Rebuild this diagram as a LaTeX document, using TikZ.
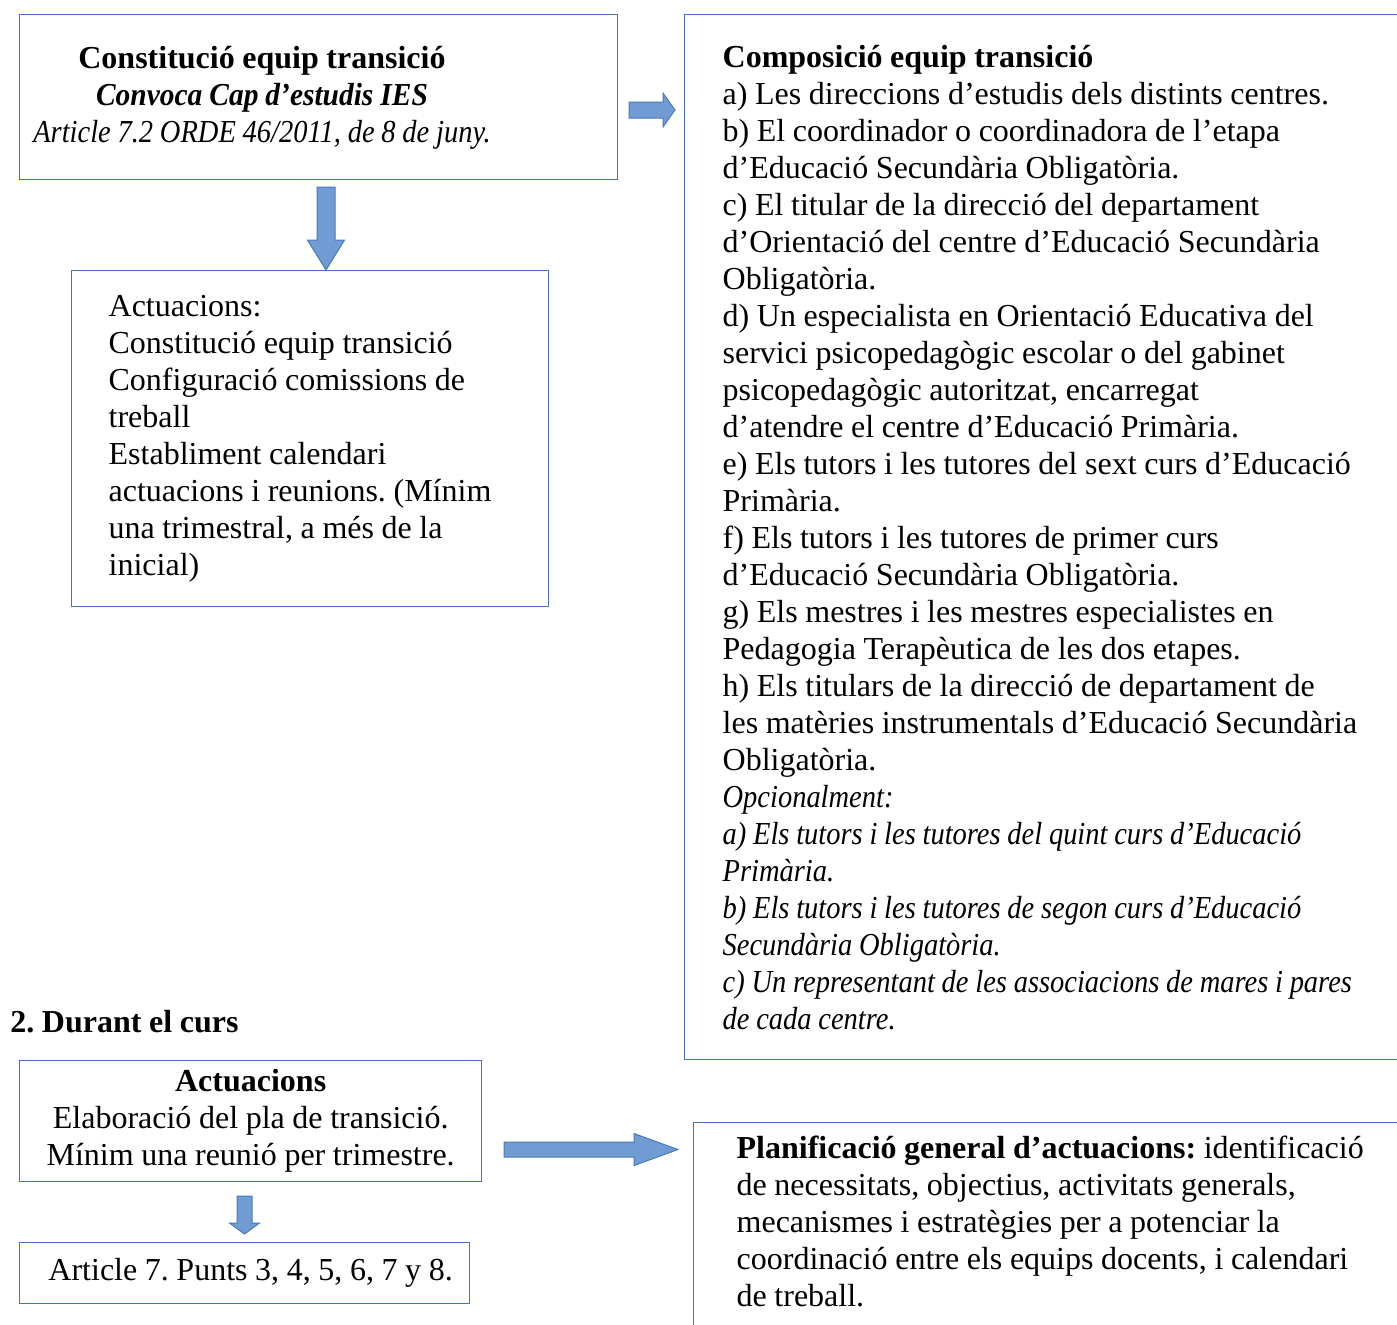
\documentclass[tikz,border=0pt]{standalone}
\usepackage{fontspec}
\setmainfont{Liberation Serif}[WordSpace=0.95,
    ItalicFeatures={FakeStretch=0.89},
    BoldItalicFeatures={FakeStretch=0.92}]
\frenchspacing
\begin{document}
\begin{tikzpicture}[x=0.5pt, y=-0.5pt]
    % Define colours
    \definecolor{borderColour}{HTML}{4472C4}
    \definecolor{arrowFill}{HTML}{719CD3}
    \definecolor{arrowBorder}{HTML}{4A7AB5}

    % Define unit (one pixel of the layout)
    \def\px{0.5pt}

    % Define styles
    \tikzset{
        box/.style={draw=borderColour, line width=0.65pt, inner sep=0pt, font=\fontsize{16}{18.5}\selectfont},
        plainText/.style={inner sep=0pt, font=\fontsize{16}{18.5}\selectfont},
        arrowStyle/.style={fill=arrowFill, draw=arrowBorder, line width=0.5pt},
        pics/blockArrow/.style args={#1/#2/#3/#4}{code={
            \filldraw[arrowStyle] (0,-#2) -- (#1-#4,-#2) -- (#1-#4,-#3) -- (#1,0)
                -- (#1-#4,#3) -- (#1-#4,#2) -- (0,#2) -- cycle;
        }}
    }

    % Page area
    \path[use as bounding box, fill=white] (0,0) rectangle (1397,1324);
    \clip (0,0) rectangle (1397,1324);

    % Constitution box
    \node[box, anchor=north west, minimum width=598*\px, minimum height=165*\px] (constitucio) at (19,14) {};
    \node[plainText, align=center] (constitucioText) at (262,97.5)
        {\textbf{Constitució equip transició}\\
         \textbf{\textit{Convoca Cap d’estudis IES}}\\
         \textit{Article 7.2 ORDE 46/2011, de 8 de juny.}};

    % Actions box
    \node[box, anchor=north west, minimum height=336*\px, text width=403*\px, inner xsep=37*\px, align=flush left] (actuacions) at (71,270)
        {Actuacions:\\
         Constitució equip transició\\
         Configuració comissions de\\
         treball\\
         Establiment calendari\\
         actuacions i reunions. (Mínim\\
         una trimestral, a més de la\\
         inicial)};

    % Composition box
    \node[box, anchor=north west, minimum height=1045*\px, text width=740*\px, inner xsep=38*\px, align=flush left] (composicio) at (684,14)
        {\textbf{Composició equip transició}\\
         a) Les direccions d’estudis dels distints centres.\\
         b) El coordinador o coordinadora de l’etapa\\
         d’Educació Secundària Obligatòria.\\
         c) El titular de la direcció del departament\\
         d’Orientació del centre d’Educació Secundària\\
         Obligatòria.\\
         d) Un especialista en Orientació Educativa del\\
         servici psicopedagògic escolar o del gabinet\\
         psicopedagògic autoritzat, encarregat\\
         d’atendre el centre d’Educació Primària.\\
         e) Els tutors i les tutores del sext curs d’Educació\\
         Primària.\\
         f) Els tutors i les tutores de primer curs\\
         d’Educació Secundària Obligatòria.\\
         g) Els mestres i les mestres especialistes en\\
         Pedagogia Terapèutica de les dos etapes.\\
         h) Els titulars de la direcció de departament de\\
         les matèries instrumentals d’Educació Secundària\\
         Obligatòria.\\
         \itshape Opcionalment:\\
         a) Els tutors i les tutores del quint curs d’Educació\\
         Primària.\\
         b) Els tutors i les tutores de segon curs d’Educació\\
         Secundària Obligatòria.\\
         c) Un representant de les associacions de mares i pares\\
         de cada centre.};

    % Section heading
    \node[plainText, font=\fontsize{16}{18.5}\selectfont\bfseries, anchor=base west] (durant) at (10,1032) {2. Durant el curs};

    % During the course boxes
    \node[box, anchor=north west, minimum width=462*\px, minimum height=121*\px, align=center] (actuacionsCurs) at (19,1060)
        {\textbf{Actuacions}\\
         Elaboració del pla de transició.\\
         Mínim una reunió per trimestre.};
    \node[box, anchor=north west, minimum width=450*\px, minimum height=61*\px] (article) at (19,1242)
        {\hspace*{6pt}Article 7. Punts 3, 4, 5, 6, 7 y 8.};

    % Planning box
    \node[box, anchor=north west, text width=700*\px, inner xsep=43*\px, inner ysep=13*\px, align=flush left] (planificacio) at (693,1122)
        {\textbf{Planificació general d’actuacions:} identificació\\
         de necessitats, objectius, activitats generals,\\
         mecanismes i estratègies per a potenciar la\\
         coordinació entre els equips docents, i calendari\\
         de treball.\strut};

    % Block arrows
    \pic[rotate=-90] at (326,187) {blockArrow=83/9/18.5/30};
    \pic at (629,110) {blockArrow=46/8/17/12};
    \pic at (504,1149.5) {blockArrow=174/7.5/16/44};
    \pic[rotate=-90] at (244.5,1196) {blockArrow=38/7.5/15/11};

\end{tikzpicture}
\end{document}
